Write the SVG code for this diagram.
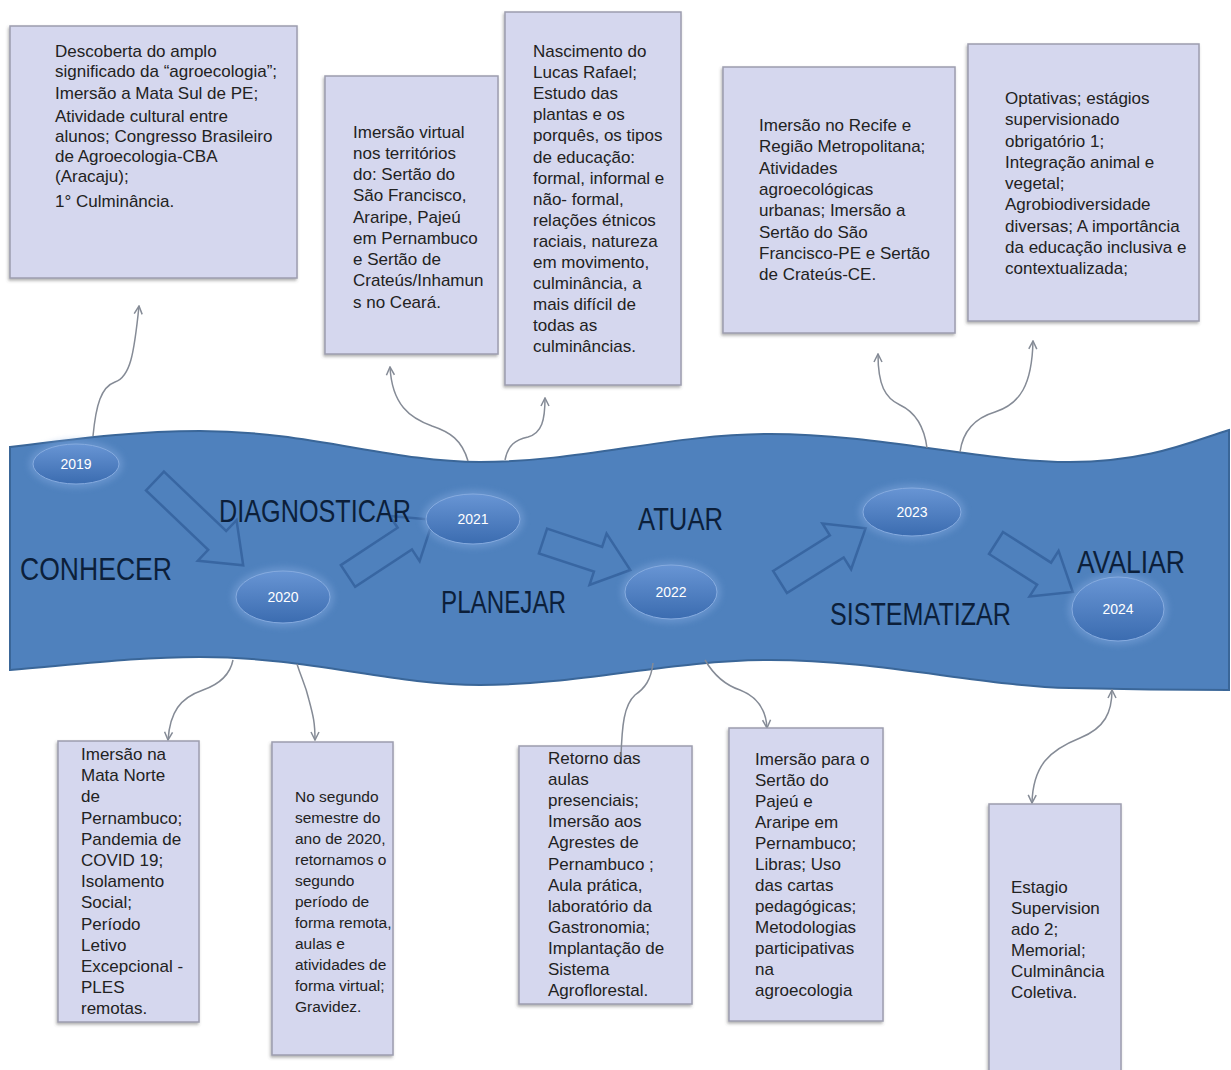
<svg xmlns="http://www.w3.org/2000/svg" width="1231" height="1070" viewBox="0 0 1231 1070">
<style>
.box{fill:#d5d7ee;stroke:#9c9daf;stroke-width:1.5;filter:url(#sh)}
.bt{font-family:"Liberation Sans",Arial,sans-serif;font-size:17px;fill:#222}
.yr{font-family:"Liberation Sans",Arial,sans-serif;font-size:14px;fill:#fff;text-anchor:middle}
.lbl{font-family:"Liberation Sans",Arial,sans-serif;font-size:31px;fill:#0c1f3a}
.conn{fill:none;stroke:#858b96;stroke-width:1.5}
.barr{fill:#4f81bd;stroke:#3866a2;stroke-width:2.5;stroke-linejoin:miter}
.ell{fill:url(#eg);stroke:#86abdf;stroke-width:1}
.glow{fill:#7aa3da;opacity:.55;filter:url(#bl)}
</style>
<defs>
<filter id="sh" x="-10%" y="-10%" width="120%" height="120%"><feDropShadow dx="-1" dy="2" stdDeviation="1.5" flood-color="#555" flood-opacity="0.45"/></filter>
<filter id="bl" x="-30%" y="-30%" width="160%" height="160%"><feGaussianBlur stdDeviation="3"/></filter>
<linearGradient id="eg" x1="0" y1="0" x2="0" y2="1"><stop offset="0" stop-color="#6895d4"/><stop offset="1" stop-color="#3b6cb0"/></linearGradient>
<marker id="ah" viewBox="0 0 10 10" refX="9" refY="5" markerWidth="10" markerHeight="10" markerUnits="userSpaceOnUse" orient="auto-start-reverse"><path d="M1,1 L9,5 L1,9" fill="none" stroke="#858b96" stroke-width="1.5"/></marker>
</defs>
<rect width="1231" height="1070" fill="#fff"/>

<g id="band">
<path d="M10,447 C90,437 140,431 200,431 C310,431 390,462 480,462 C580,462 670,434 770,434 C880,434 980,462 1070,462 C1150,462 1195,440 1229,430 L1229,690 C1200,690 1150,690 1070,688 C980,686 880,660 770,660 C670,660 580,685 480,685 C390,685 310,657 200,657 C140,657 90,663 10,670 Z" fill="#4f81bd" stroke="#3a6698" stroke-width="2"/>
</g>

<g id="block-arrows">
<path class="barr" transform="translate(155,481) rotate(43.7)" d="M0,-13 L86,-13 L86,-28 L122,0 L86,28 L86,13 L0,13 Z"/>
<path class="barr" transform="translate(348,576) rotate(-33.4)" d="M0,-13 L68,-13 L68,-27 L102,0 L68,27 L68,13 L0,13 Z"/>
<path class="barr" transform="translate(543,541) rotate(18.4)" d="M0,-13 L58,-13 L58,-27 L92,0 L58,27 L58,13 L0,13 Z"/>
<path class="barr" transform="translate(780,582) rotate(-32.1)" d="M0,-13 L67,-13 L67,-27 L101,0 L67,27 L67,13 L0,13 Z"/>
<path class="barr" transform="translate(996,543) rotate(32.5)" d="M0,-13 L57,-13 L57,-27 L91,0 L57,27 L57,13 L0,13 Z"/>
</g>

<g id="y2019"><ellipse class="glow" cx="76" cy="464" rx="47" ry="24"/><ellipse class="ell" cx="76" cy="464" rx="43" ry="20"/><text class="yr" x="76" y="469">2019</text></g>
<g id="y2020"><ellipse class="glow" cx="283" cy="597" rx="51" ry="30"/><ellipse class="ell" cx="283" cy="597" rx="47" ry="26"/><text class="yr" x="283" y="602">2020</text></g>
<g id="y2021"><ellipse class="glow" cx="473" cy="519" rx="51" ry="29"/><ellipse class="ell" cx="473" cy="519" rx="47" ry="25"/><text class="yr" x="473" y="524">2021</text></g>
<g id="y2022"><ellipse class="glow" cx="671" cy="592" rx="50" ry="31"/><ellipse class="ell" cx="671" cy="592" rx="46" ry="27"/><text class="yr" x="671" y="597">2022</text></g>
<g id="y2023"><ellipse class="glow" cx="912" cy="512" rx="53" ry="28"/><ellipse class="ell" cx="912" cy="512" rx="49" ry="24"/><text class="yr" x="912" y="517">2023</text></g>
<g id="y2024"><ellipse class="glow" cx="1118" cy="609" rx="50" ry="36"/><ellipse class="ell" cx="1118" cy="609" rx="46" ry="32"/><text class="yr" x="1118" y="614">2024</text></g>

<g id="labels">
<text class="lbl" x="20" y="580" textLength="152" lengthAdjust="spacingAndGlyphs">CONHECER</text>
<text class="lbl" x="219" y="522" textLength="192" lengthAdjust="spacingAndGlyphs">DIAGNOSTICAR</text>
<text class="lbl" x="441" y="613" textLength="125" lengthAdjust="spacingAndGlyphs">PLANEJAR</text>
<text class="lbl" x="638" y="530" textLength="85" lengthAdjust="spacingAndGlyphs">ATUAR</text>
<text class="lbl" x="830" y="625" textLength="181" lengthAdjust="spacingAndGlyphs">SISTEMATIZAR</text>
<text class="lbl" x="1077" y="573" textLength="108" lengthAdjust="spacingAndGlyphs">AVALIAR</text>
</g>

<g id="connectors">
<path class="conn" marker-end="url(#ah)" d="M93,436 C96,405 101,387 115,382 C130,377 134,355 139,306"/>
<path class="conn" marker-end="url(#ah)" d="M468,461 C462,440 450,432 432,426 C410,418 392,405 390,367"/>
<path class="conn" marker-end="url(#ah)" d="M505,460 C508,445 515,440 528,437 C542,433 545,420 545,398"/>
<path class="conn" marker-end="url(#ah)" d="M927,448 C924,425 915,412 900,405 C885,398 878,385 878,354"/>
<path class="conn" marker-end="url(#ah)" d="M960,452 C963,430 975,418 995,412 C1020,404 1032,385 1033,341"/>
<path class="conn" marker-end="url(#ah)" d="M233,660 C230,675 220,684 203,690 C180,698 170,712 168,740"/>
<path class="conn" marker-end="url(#ah)" d="M297,664 C302,680 305,683 309,700 C313,715 315,722 315,740"/>
<path class="conn" marker-end="url(#ah)" d="M705,660 C712,672 722,684 740,690 C758,697 766,710 767,728"/>
<path class="conn" marker-start="url(#ah)" marker-end="url(#ah)" d="M1112,690 C1112,712 1105,728 1080,738 C1050,750 1033,765 1032,803"/>
</g>

<g id="box2019">
<rect class="box" x="10" y="26" width="287" height="252"/>
<text class="bt"><tspan x="55" y="57">Descoberta do amplo</tspan><tspan x="55" y="77">significado da “agroecologia”;</tspan><tspan x="55" y="99">Imersão a Mata Sul de PE;</tspan><tspan x="55" y="122">Atividade cultural entre</tspan><tspan x="55" y="142">alunos; Congresso Brasileiro</tspan><tspan x="55" y="162">de Agroecologia-CBA</tspan><tspan x="55" y="182">(Aracaju);</tspan><tspan x="55" y="207">1° Culminância.</tspan></text>
</g>

<g id="box2021a">
<rect class="box" x="325" y="76" width="173" height="278"/>
<text class="bt"><tspan x="353" y="138">Imersão virtual</tspan><tspan x="353" y="159">nos territórios</tspan><tspan x="353" y="180">do: Sertão do</tspan><tspan x="353" y="201">São Francisco,</tspan><tspan x="353" y="223">Araripe, Pajeú</tspan><tspan x="353" y="244">em Pernambuco</tspan><tspan x="353" y="265">e Sertão de</tspan><tspan x="353" y="286">Crateús/Inhamun</tspan><tspan x="353" y="308">s no Ceará.</tspan></text>
</g>

<g id="box2021b">
<rect class="box" x="505" y="12" width="176" height="373"/>
<text class="bt"><tspan x="533" y="57">Nascimento do</tspan><tspan x="533" y="78">Lucas Rafael;</tspan><tspan x="533" y="99">Estudo das</tspan><tspan x="533" y="120">plantas e os</tspan><tspan x="533" y="141">porquês, os tipos</tspan><tspan x="533" y="163">de educação:</tspan><tspan x="533" y="184">formal, informal e</tspan><tspan x="533" y="205">não- formal,</tspan><tspan x="533" y="226">relações étnicos</tspan><tspan x="533" y="247">raciais, natureza</tspan><tspan x="533" y="268">em movimento,</tspan><tspan x="533" y="289">culminância, a</tspan><tspan x="533" y="310">mais difícil de</tspan><tspan x="533" y="331">todas as</tspan><tspan x="533" y="352">culminâncias.</tspan></text>
</g>

<g id="box2023a">
<rect class="box" x="723" y="67" width="232" height="266"/>
<text class="bt"><tspan x="759" y="131">Imersão no Recife e</tspan><tspan x="759" y="152">Região Metropolitana;</tspan><tspan x="759" y="174">Atividades</tspan><tspan x="759" y="195">agroecológicas</tspan><tspan x="759" y="216">urbanas; Imersão a</tspan><tspan x="759" y="238">Sertão do São</tspan><tspan x="759" y="259">Francisco-PE e Sertão</tspan><tspan x="759" y="280">de Crateús-CE.</tspan></text>
</g>

<g id="box2023b">
<rect class="box" x="968" y="44" width="231" height="277"/>
<text class="bt"><tspan x="1005" y="104">Optativas; estágios</tspan><tspan x="1005" y="125">supervisionado</tspan><tspan x="1005" y="147">obrigatório 1;</tspan><tspan x="1005" y="168">Integração animal e</tspan><tspan x="1005" y="189">vegetal;</tspan><tspan x="1005" y="210">Agrobiodiversidade</tspan><tspan x="1005" y="232">diversas; A importância</tspan><tspan x="1005" y="253">da educação inclusiva e</tspan><tspan x="1005" y="274">contextualizada;</tspan></text>
</g>

<g id="box2020a">
<rect class="box" x="58" y="741" width="141" height="281"/>
<text class="bt"><tspan x="81" y="760">Imersão na</tspan><tspan x="81" y="781">Mata Norte</tspan><tspan x="81" y="802">de</tspan><tspan x="81" y="824">Pernambuco;</tspan><tspan x="81" y="845">Pandemia de</tspan><tspan x="81" y="866">COVID 19;</tspan><tspan x="81" y="887">Isolamento</tspan><tspan x="81" y="908">Social;</tspan><tspan x="81" y="930">Período</tspan><tspan x="81" y="951">Letivo</tspan><tspan x="81" y="972">Excepcional -</tspan><tspan x="81" y="993">PLES</tspan><tspan x="81" y="1014">remotas.</tspan></text>
</g>

<g id="box2020b">
<rect class="box" x="272" y="742" width="121" height="313"/>
<text class="bt" style="font-size:15.5px"><tspan x="295" y="802">No segundo</tspan><tspan x="295" y="823">semestre do</tspan><tspan x="295" y="844">ano de 2020,</tspan><tspan x="295" y="865">retornamos o</tspan><tspan x="295" y="886">segundo</tspan><tspan x="295" y="907">período de</tspan><tspan x="295" y="928">forma remota,</tspan><tspan x="295" y="949">aulas e</tspan><tspan x="295" y="970">atividades de</tspan><tspan x="295" y="991">forma virtual;</tspan><tspan x="295" y="1012">Gravidez.</tspan></text>
</g>

<g id="box2022a">
<rect class="box" x="519" y="746" width="173" height="258"/>
<text class="bt"><tspan x="548" y="764">Retorno das</tspan><tspan x="548" y="785">aulas</tspan><tspan x="548" y="806">presenciais;</tspan><tspan x="548" y="827">Imersão aos</tspan><tspan x="548" y="848">Agrestes de</tspan><tspan x="548" y="870">Pernambuco ;</tspan><tspan x="548" y="891">Aula prática,</tspan><tspan x="548" y="912">laboratório da</tspan><tspan x="548" y="933">Gastronomia;</tspan><tspan x="548" y="954">Implantação de</tspan><tspan x="548" y="975">Sistema</tspan><tspan x="548" y="996">Agroflorestal.</tspan></text>
</g>

<g id="box2022b">
<rect class="box" x="729" y="728" width="154" height="293"/>
<text class="bt"><tspan x="755" y="765">Imersão para o</tspan><tspan x="755" y="786">Sertão do</tspan><tspan x="755" y="807">Pajeú e</tspan><tspan x="755" y="828">Araripe em</tspan><tspan x="755" y="849">Pernambuco;</tspan><tspan x="755" y="870">Libras; Uso</tspan><tspan x="755" y="891">das cartas</tspan><tspan x="755" y="912">pedagógicas;</tspan><tspan x="755" y="933">Metodologias</tspan><tspan x="755" y="954">participativas</tspan><tspan x="755" y="975">na</tspan><tspan x="755" y="996">agroecologia</tspan></text>
</g>

<g id="box2024">
<rect class="box" x="989" y="804" width="132" height="275"/>
<text class="bt"><tspan x="1011" y="893">Estagio</tspan><tspan x="1011" y="914">Supervision</tspan><tspan x="1011" y="935">ado 2;</tspan><tspan x="1011" y="956">Memorial;</tspan><tspan x="1011" y="977">Culminância</tspan><tspan x="1011" y="998">Coletiva.</tspan></text>
</g>

<g id="connector-over">
<path class="conn" d="M653,663 C651,680 645,688 635,695 C624,705 622,725 621,757"/>
</g>
</svg>
